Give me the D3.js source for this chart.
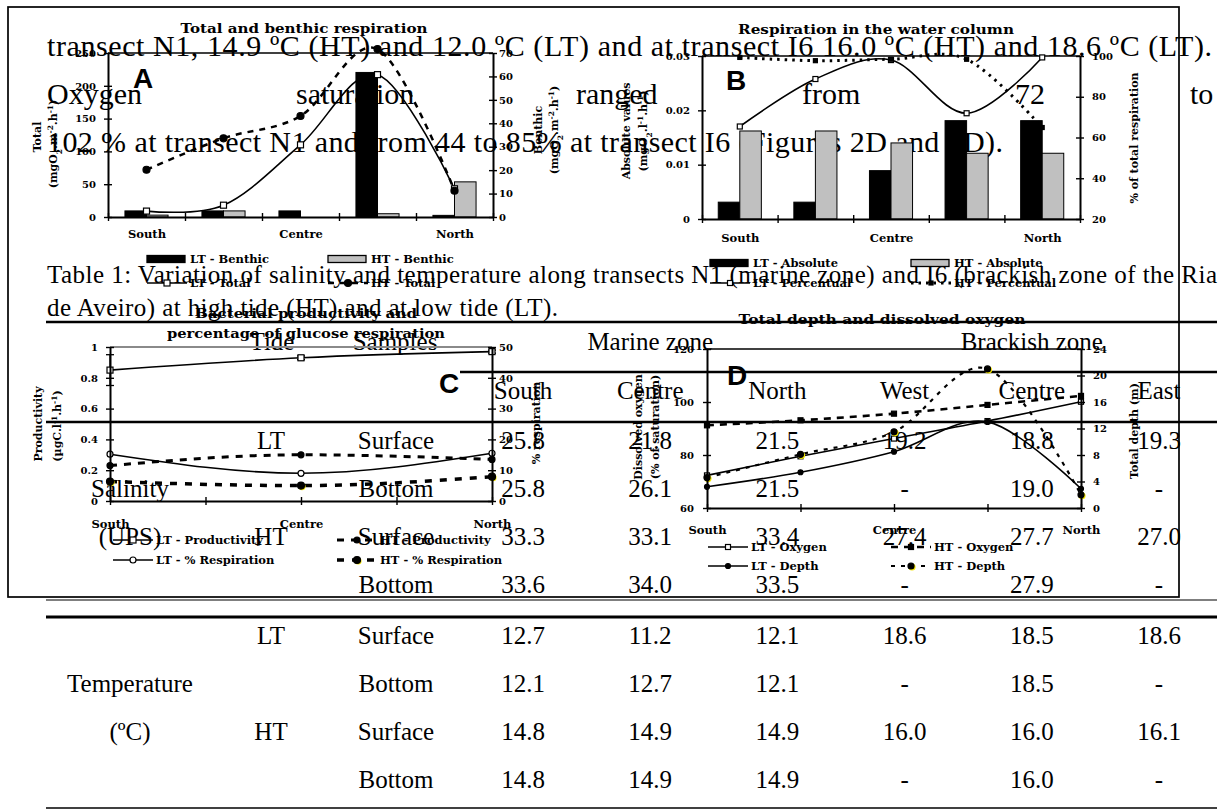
<!DOCTYPE html>
<html>
<head>
<meta charset="utf-8">
<script src="https://cdn.jsdelivr.net/npm/d3@7"></script>
<style>
  body { margin: 0; background: #fff; }
  svg { display: block; }
</style>
</head>
<body>
<svg id="page" width="1225" height="810"></svg>
<script>
// ---------------- body text and table ----------------
const bodyLine1 = "transect N1, 14.9 ºC (HT) and 12.0 ºC (LT) and at transect I6 16.0 ºC (HT) and 18.6 ºC (LT).";
const bodyLine2Words = ["Oxygen", "saturation", "ranged", "from", "72", "to"];
const bodyLine3 = "102 % at transect N1 and from 44 to 85% at transect I6 (Figures 2D and 3D).";
const captionLines = [
  "Table 1: Variation of salinity and temperature along transects N1 (marine zone) and I6 (brackish zone of the Ria",
  "de Aveiro) at high tide (HT) and at low tide (LT)."
];
const headerTide = "Tide";
const headerSamples = "Samples";
const zoneNames = ["Marine zone", "Brackish zone"];
const siteNames = ["South", "Centre", "North", "West", "Centre", "East"];
const salinityLtSurface = ["25.8", "21.8", "21.5", "19.2", "18.8", "19.3"];
const salinityLtBottom = ["25.8", "26.1", "21.5", "-", "19.0", "-"];
const salinityHtSurface = ["33.3", "33.1", "33.4", "27.4", "27.7", "27.0"];
const salinityHtBottom = ["33.6", "34.0", "33.5", "-", "27.9", "-"];
const temperatureLtSurface = ["12.7", "11.2", "12.1", "18.6", "18.5", "18.6"];
const temperatureLtBottom = ["12.1", "12.7", "12.1", "-", "18.5", "-"];
const temperatureHtSurface = ["14.8", "14.9", "14.9", "16.0", "16.0", "16.1"];
const temperatureHtBottom = ["14.8", "14.9", "14.9", "-", "16.0", "-"];

// ---------------- figure data ----------------
const transectSlots = ["South", "South-Centre", "Centre", "Centre-North", "North"];
const slotLabels = ["South", "", "Centre", "", "North"];

// A: total and benthic respiration
const ltBenthic = [2.6, 2.6, 2.6, 61.7, 0.7];
const htBenthic = [0.8, 2.6, 0, 1.4, 15.0];
const ltTotal = [9, 18, 110, 217, 43];
const htTotal = [72, 120, 154, 256, 40];
const totalTicks = [0, 50, 100, 150, 200, 250];
const benthicTicks = [0, 10, 20, 30, 40, 50, 60, 70];

// B: respiration in the water column
const ltAbsolute = [0.0031, 0.0031, 0.0089, 0.0181, 0.0181];
const htAbsolute = [0.0162, 0.0162, 0.0140, 0.0121, 0.0121];
const ltPercentual = [65.4, 88.7, 98.0, 71.9, 99.3];
const htPercentual = [99.3, 97.7, 98.4, 98.4, 64.9];
const absoluteTicks = [0, 0.01, 0.02, 0.03];
const percentTicks = [20, 40, 60, 80, 100];

// C: bacterial productivity and glucose respiration
const prodStations = ["South", "Centre", "North"];
const ltProductivity = [0.85, 0.93, 0.97];
const ltProductivityErr = [0.1, 0.012, 0.01];
const htProductivity = [0.23, 0.30, 0.27];
const ltRespiration = [15.2, 9.0, 15.5];
const htRespiration = [6.3, 5.0, 7.9];
const productivityTicks = [0, 0.2, 0.4, 0.6, 0.8, 1];
const respirationTicks = [0, 10, 20, 30, 40, 50];

// D: total depth and dissolved oxygen
const ltOxygen = [72.3, 79.5, 86.2, 92.8, 100.1];
const htOxygen = [91.2, 93.1, 95.6, 98.9, 102.3];
const ltDepth = [3.2, 5.4, 8.5, 13.0, 2.9];
const htDepth = [4.6, 8.1, 11.5, 21.0, 2.0];
const oxygenTicks = [60, 80, 100, 120];
const depthTicks = [0, 4, 8, 12, 16, 20, 24];

// ---------------- styling ----------------
const SERIF = "'Liberation Serif', 'Times New Roman', serif";
const CHART = "'DejaVu Serif', serif";
const SANS = "'Liberation Sans', Arial, sans-serif";
const GREY = "#c0c0c0";

const svg = d3.select("#page");
svg.append("rect").attr("width", 1225).attr("height", 810).attr("fill", "#fff");

// ---------------- document text ----------------
const doc = svg.append("g").attr("font-family", SERIF).attr("font-size", 25).attr("fill", "#000");

function docText(str, x, y, opts = {}) {
  const t = doc.append("text").attr("x", x).attr("y", y).text(str);
  if (opts.anchor) t.attr("text-anchor", opts.anchor);
  if (opts.size) t.attr("font-size", opts.size);
  if (opts.length) t.attr("textLength", opts.length).attr("lengthAdjust", "spacing");
  return t;
}

// running paragraph (larger type than the table)
docText(bodyLine1, 47, 56, { length: 1165, size: 30 });
const line2X = [47, 296, 576, 802, 1015, 1190];
bodyLine2Words.forEach((w, i) => docText(w, line2X[i], 104, { size: 30 }));
docText(bodyLine3, 47, 152, { length: 956, size: 30 });
docText(captionLines[0], 47, 283, { length: 1170 });
docText(captionLines[1], 47, 316, { length: 511 });

function rule(y, x1, x2, w) {
  doc.append("line").attr("x1", x1).attr("x2", x2).attr("y1", y).attr("y2", y)
    .attr("stroke", "#000").attr("stroke-width", w);
}
rule(322, 46, 1217, 2.6);
rule(372, 460, 1217, 2.3);
rule(422, 46, 1217, 2.6);
rule(600, 46, 1217, 1.1);
rule(617, 46, 1217, 3);
rule(808, 46, 1217, 1.4);

const colX = d3.scalePoint().domain(d3.range(siteNames.length)).range([523, 1159]);
docText(headerTide, 272, 350, { anchor: "middle" });
docText(headerSamples, 395, 350, { anchor: "middle" });
docText(zoneNames[0], colX(1), 350, { anchor: "middle" });
docText(zoneNames[1], colX(4), 350, { anchor: "middle" });
siteNames.forEach((s, i) => docText(s, colX(i), 399, { anchor: "middle" }));

function tableBlock(top, name, unit, rows) {
  const tides = ["LT", "", "HT", ""];
  const samples = ["Surface", "Bottom", "Surface", "Bottom"];
  rows.forEach((vals, r) => {
    const y = top + r * 48;
    if (tides[r]) docText(tides[r], 271, y, { anchor: "middle" });
    docText(samples[r], 396, y, { anchor: "middle" });
    vals.forEach((v, c) => docText(v, colX(c), y, { anchor: "middle" }));
  });
  docText(name, 130, top + 48, { anchor: "middle" });
  docText(unit, 130, top + 96, { anchor: "middle" });
}
tableBlock(449, "Salinity", "(UPS)", [salinityLtSurface, salinityLtBottom, salinityHtSurface, salinityHtBottom]);
tableBlock(644, "Temperature", "(ºC)", [temperatureLtSurface, temperatureLtBottom, temperatureHtSurface, temperatureHtBottom]);

// ---------------- figure ----------------
const fig = svg.append("g").attr("font-family", CHART).attr("font-weight", "bold").attr("fill", "#000");
fig.append("rect").attr("x", 8).attr("y", 7).attr("width", 1171).attr("height", 590)
  .attr("fill", "none").attr("stroke", "#000").attr("stroke-width", 1.7);

function styleAxis(g, fontSize) {
  g.attr("font-family", CHART).attr("font-weight", "bold").attr("font-size", fontSize);
  g.selectAll(".domain").attr("stroke", "#000").attr("stroke-width", 2);
  g.selectAll(".tick line").attr("stroke", "#000").attr("stroke-width", 1.4);
  g.selectAll(".tick text").attr("fill", "#000");
}

// vertical axis with ticks crossing the axis line
function yAxis(scale, x, ticks, side, gap, fmt) {
  const outer = (side === "left" ? d3.axisLeft(scale) : d3.axisRight(scale))
    .tickValues(ticks).tickSizeInner(4).tickSizeOuter(0).tickPadding(gap).tickFormat(fmt || (d => String(d)));
  const g = fig.append("g").attr("transform", `translate(${x},0)`).call(outer);
  styleAxis(g, 10);
  const inner = (side === "left" ? d3.axisRight(scale) : d3.axisLeft(scale))
    .tickValues(ticks).tickSizeInner(4).tickSizeOuter(0).tickFormat("");
  const gi = fig.append("g").attr("transform", `translate(${x},0)`).call(inner);
  gi.select(".domain").remove();
  styleAxis(gi, 10);
  return g;
}

// horizontal axis: crossing ticks at the given scale positions, station names below
function xAxis(tickScale, tickValues, y, labelScale, labelY) {
  const down = d3.axisBottom(tickScale).tickValues(tickValues).tickSizeInner(4).tickSizeOuter(0).tickFormat("");
  const g = fig.append("g").attr("transform", `translate(0,${y})`).call(down);
  styleAxis(g, 11);
  const up = d3.axisTop(tickScale).tickValues(tickValues).tickSizeInner(4).tickSizeOuter(0).tickFormat("");
  const gu = fig.append("g").attr("transform", `translate(0,${y})`).call(up);
  gu.select(".domain").remove();
  styleAxis(gu, 11);
  const lab = d3.axisBottom(labelScale).tickSize(0).tickPadding(0)
    .tickFormat(d => slotLabels[transectSlots.indexOf(d)]);
  const gl = fig.append("g").attr("transform", `translate(0,${labelY})`).call(lab);
  gl.select(".domain").remove();
  styleAxis(gl, 11.5);
  gl.selectAll(".tick text").attr("dy", 0);
}

function title(str, cx, y, len) {
  fig.append("text").attr("x", cx).attr("y", y).attr("text-anchor", "middle")
    .attr("font-size", 12).attr("textLength", len).attr("lengthAdjust", "spacingAndGlyphs").text(str);
}

function panelLetter(ch, x, y) {
  fig.append("text").attr("x", x).attr("y", y).attr("font-family", SANS)
    .attr("font-weight", "bold").attr("font-size", 28).text(ch);
}

// rotated axis caption; parts are [text, shift] with shift "sub", "super" or null
function axisCaption(parts, x, y) {
  const t = fig.append("text").attr("transform", `translate(${x},${y}) rotate(-90)`)
    .attr("text-anchor", "middle").attr("font-size", 11);
  parts.forEach(([s, shift]) => {
    const ts = t.append("tspan").text(s);
    if (shift) ts.attr("baseline-shift", shift).attr("font-size", 7.5);
  });
}

function unitParts(base, vol) {
  return [["(" + base, null], ["2", "sub"], ["." + vol, null], ["-" + (vol === "m" ? "2" : "1"), "super"], [".h", null], ["-1", "super"], [")", null]];
}

function marker(g, type, x, y, s) {
  if (type === "openSquare" || type === "filledSquare") {
    g.append("rect").attr("x", x - s / 2).attr("y", y - s / 2).attr("width", s).attr("height", s)
      .attr("fill", type === "openSquare" ? "#fff" : "#000").attr("stroke", "#000").attr("stroke-width", 1.2);
  } else {
    g.append("circle").attr("cx", x).attr("cy", y).attr("r", s / 2)
      .attr("fill", type === "openCircle" ? "#fff" : "#000").attr("stroke", "#000").attr("stroke-width", 1.2);
  }
}

function series(pts, opts) {
  const g = fig.append("g");
  const line = d3.line().x(d => d[0]).y(d => d[1]).curve(opts.curve || d3.curveCardinal.tension(0));
  g.append("path").attr("d", line(pts)).attr("fill", "none").attr("stroke", "#000")
    .attr("stroke-width", opts.width || 1.5).attr("stroke-dasharray", opts.dash || null);
  pts.forEach(p => {
    if (opts.halo) g.append("circle").attr("cx", p[0] + 1).attr("cy", p[1] + 1).attr("r", 3.6).attr("fill", "#f2e600");
    marker(g, opts.marker, p[0], p[1], opts.size || 6);
  });
  return g;
}

function legendItem(x, y, item) {
  const g = fig.append("g");
  if (item.bar) {
    g.append("rect").attr("x", x).attr("y", y - 3.5).attr("width", 38).attr("height", 7)
      .attr("fill", item.bar).attr("stroke", "#000").attr("stroke-width", 1.3);
  } else {
    g.append("line").attr("x1", x).attr("x2", x + 40).attr("y1", y).attr("y2", y).attr("stroke", "#000")
      .attr("stroke-width", item.width || 1.5).attr("stroke-dasharray", item.dash || null);
    if (item.halo) g.append("circle").attr("cx", x + 21).attr("cy", y + 1).attr("r", 3.6).attr("fill", "#f2e600");
    marker(g, item.marker, x + 20, y, item.size || 6);
  }
  g.append("text").attr("x", x + 43).attr("y", y + 4).attr("font-size", 11.5).text(item.label);
}

// ---- Panel A ----
const A = { left: 108, right: 493, top: 53, bottom: 217 };
const xA = d3.scaleBand().domain(transectSlots).range([A.left, A.right]).padding(0);
const edgeA = d3.scaleLinear().domain([0, transectSlots.length]).range([A.left, A.right]);
const yTotal = d3.scaleLinear().domain([0, 250]).range([A.bottom, A.top]);
const yBenthic = d3.scaleLinear().domain([0, 70]).range([A.bottom, A.top]);
fig.append("line").attr("x1", A.left).attr("x2", A.right).attr("y1", A.top).attr("y2", A.top)
  .attr("stroke", "#000").attr("stroke-width", 1.3);
const barWA = xA.bandwidth() * 0.28;
const cA = s => xA(s) + xA.bandwidth() / 2;
fig.append("g").selectAll("rect").data(ltBenthic).join("rect")
  .attr("x", (d, i) => cA(transectSlots[i]) - barWA).attr("width", barWA)
  .attr("y", d => yBenthic(d)).attr("height", d => yBenthic(0) - yBenthic(d))
  .attr("fill", "#000").attr("stroke", "#000").attr("stroke-width", 1);
fig.append("g").selectAll("rect").data(htBenthic).join("rect")
  .attr("x", (d, i) => cA(transectSlots[i])).attr("width", barWA)
  .attr("y", d => yBenthic(d)).attr("height", d => yBenthic(0) - yBenthic(d))
  .attr("fill", GREY).attr("stroke", "#000").attr("stroke-width", 1);
series(ltTotal.map((v, i) => [cA(transectSlots[i]), yTotal(v)]), { marker: "openSquare", size: 6, width: 1.6 });
series(htTotal.map((v, i) => [cA(transectSlots[i]), yTotal(v)]), { marker: "filledCircle", size: 7, width: 2.5, dash: "6,6" });
yAxis(yTotal, A.left, totalTicks, "left", 8);
yAxis(yBenthic, A.right, benthicTicks, "right", 2);
xAxis(edgeA, d3.range(transectSlots.length + 1), A.bottom, d3.scalePoint().domain(transectSlots).range([cA("South"), cA("North")]), 238);
title("Total and benthic respiration", 304, 33, 247);
panelLetter("A", 133, 88);
axisCaption([["Total", null]], 41, 137);
axisCaption(unitParts("mgO", "m"), 57, 144);
axisCaption([["Benthic", null]], 542, 130);
axisCaption(unitParts("mgO", "m"), 558, 130);
legendItem(147, 259, { bar: "#000", label: "LT - Benthic" });
legendItem(328, 259, { bar: GREY, label: "HT - Benthic" });
legendItem(147, 283, { marker: "openSquare", label: "LT - Total" });
legendItem(328, 283, { marker: "filledCircle", size: 7, dash: "6,6", width: 2.5, label: "HT - Total" });

// ---- Panel B ----
const B = { left: 702, right: 1080, top: 56, bottom: 219 };
const xB = d3.scaleBand().domain(transectSlots).range([B.left, B.right]).padding(0);
const edgeB = d3.scaleLinear().domain([0, transectSlots.length]).range([B.left, B.right]);
const yAbs = d3.scaleLinear().domain([0, 0.03]).range([B.bottom, B.top]);
const yPct = d3.scaleLinear().domain([20, 100]).range([B.bottom, B.top]);
fig.append("line").attr("x1", B.left).attr("x2", B.right).attr("y1", B.top).attr("y2", B.top)
  .attr("stroke", "#000").attr("stroke-width", 1.3);
const barWB = xB.bandwidth() * 0.285;
const cB = s => xB(s) + xB.bandwidth() / 2;
fig.append("g").selectAll("rect").data(ltAbsolute).join("rect")
  .attr("x", (d, i) => cB(transectSlots[i]) - barWB).attr("width", barWB)
  .attr("y", d => yAbs(d)).attr("height", d => yAbs(0) - yAbs(d))
  .attr("fill", "#000").attr("stroke", "#000").attr("stroke-width", 1);
fig.append("g").selectAll("rect").data(htAbsolute).join("rect")
  .attr("x", (d, i) => cB(transectSlots[i])).attr("width", barWB)
  .attr("y", d => yAbs(d)).attr("height", d => yAbs(0) - yAbs(d))
  .attr("fill", GREY).attr("stroke", "#000").attr("stroke-width", 1);
series(ltPercentual.map((v, i) => [cB(transectSlots[i]), yPct(v)]), { marker: "openSquare", size: 5, width: 1.6 });
series(htPercentual.map((v, i) => [cB(transectSlots[i]), yPct(v)]), { marker: "filledSquare", size: 4, width: 3, dash: "2.5,5" });
yAxis(yAbs, B.left, absoluteTicks, "left", 8);
yAxis(yPct, B.right, percentTicks, "right", 8);
xAxis(edgeB, d3.range(transectSlots.length + 1), B.bottom, d3.scalePoint().domain(transectSlots).range([cB("South"), cB("North")]), 242);
title("Respiration in the water column", 876, 34, 276);
panelLetter("B", 726, 90);
axisCaption([["Absolute values", null]], 630, 131);
axisCaption(unitParts("mgO", "l"), 647, 131);
axisCaption([["% of total respiration", null]], 1138, 138);
legendItem(710, 263, { bar: "#000", label: "LT - Absolute" });
legendItem(911, 263, { bar: GREY, label: "HT - Absolute" });
legendItem(710, 283, { marker: "openSquare", size: 5, label: "LT - Percentual" });
legendItem(911, 283, { marker: "filledSquare", size: 4, dash: "2.5,5", width: 3, label: "HT - Percentual" });

// ---- Panel C ----
const C = { left: 110, right: 492, top: 347, bottom: 501 };
const xC = d3.scalePoint().domain(transectSlots).range([C.left, C.right]);
const yProd = d3.scaleLinear().domain([0, 1]).range([C.bottom, C.top]);
const yResp = d3.scaleLinear().domain([0, 50]).range([C.bottom, C.top]);
fig.append("line").attr("x1", C.left).attr("x2", C.right).attr("y1", C.top).attr("y2", C.top)
  .attr("stroke", "#8a8a8a").attr("stroke-width", 1.8);
// error bars on the low-tide productivity
const errG = fig.append("g").attr("stroke", "#000").attr("stroke-width", 1.3);
ltProductivity.forEach((v, i) => {
  const x = xC(prodStations[i]);
  errG.append("line").attr("x1", x).attr("x2", x).attr("y1", yProd(v - ltProductivityErr[i])).attr("y2", yProd(v + ltProductivityErr[i]));
  [v - ltProductivityErr[i], v + ltProductivityErr[i]].forEach(e =>
    errG.append("line").attr("x1", x - 4).attr("x2", x + 4).attr("y1", yProd(e)).attr("y2", yProd(e)));
});
series(ltProductivity.map((v, i) => [xC(prodStations[i]), yProd(v)]), { marker: "openSquare", size: 6, width: 1.6, curve: d3.curveMonotoneX });
series(ltRespiration.map((v, i) => [xC(prodStations[i]), yResp(v)]), { marker: "openCircle", size: 6, width: 1.6, curve: d3.curveMonotoneX });
series(htProductivity.map((v, i) => [xC(prodStations[i]), yProd(v)]), { marker: "filledCircle", size: 6, width: 3, dash: "7,7", curve: d3.curveMonotoneX });
series(htRespiration.map((v, i) => [xC(prodStations[i]), yResp(v)]), { marker: "filledCircle", size: 7, width: 3.5, dash: "7,8", curve: d3.curveMonotoneX, halo: true });
yAxis(yProd, C.left, productivityTicks, "left", 8);
yAxis(yResp, C.right, respirationTicks, "right", 3);
xAxis(xC, transectSlots, C.bottom, xC, 528);
fig.append("text").attr("x", 306).attr("y", 318).attr("text-anchor", "middle").attr("font-size", 12)
  .attr("textLength", 222).attr("lengthAdjust", "spacingAndGlyphs").text("Bacterial productivity and");
fig.append("text").attr("x", 306).attr("y", 338).attr("text-anchor", "middle").attr("font-size", 12)
  .attr("textLength", 278).attr("lengthAdjust", "spacingAndGlyphs").text("percentage of glucose respiration");
panelLetter("C", 439, 393);
axisCaption([["Productivity", null]], 42, 424);
axisCaption([["(µgC.l", null], ["-1", "super"], [".h", null], ["-1", "super"], [")", null]], 61, 426);
axisCaption([["% respiration", null]], 540, 423);
legendItem(113, 540, { marker: "openSquare", label: "LT - Productivity" });
legendItem(337, 540, { marker: "filledCircle", size: 6, dash: "7,7", width: 3, label: "HT - Productivity" });
legendItem(113, 560, { marker: "openCircle", label: "LT - % Respiration" });
legendItem(337, 560, { marker: "filledCircle", size: 7, dash: "7,8", width: 3.5, halo: true, label: "HT - % Respiration" });

// ---- Panel D ----
const D = { left: 707, right: 1081, top: 349, bottom: 508 };
const xD = d3.scalePoint().domain(transectSlots).range([D.left, D.right]);
const yOxy = d3.scaleLinear().domain([60, 120]).range([D.bottom, D.top]);
const yDepth = d3.scaleLinear().domain([0, 24]).range([D.bottom, D.top]);
fig.append("line").attr("x1", D.left).attr("x2", D.right).attr("y1", D.top).attr("y2", D.top)
  .attr("stroke", "#000").attr("stroke-width", 1.3);
series(ltOxygen.map((v, i) => [xD(transectSlots[i]), yOxy(v)]), { marker: "openSquare", size: 5, width: 1.6 });
series(ltDepth.map((v, i) => [xD(transectSlots[i]), yDepth(v)]), { marker: "filledCircle", size: 5, width: 1.6 });
series(htOxygen.map((v, i) => [xD(transectSlots[i]), yOxy(v)]), { marker: "filledSquare", size: 5, width: 2.6, dash: "7,6" });
series(htDepth.map((v, i) => [xD(transectSlots[i]), yDepth(v)]), { marker: "filledCircle", size: 6, width: 2.2, dash: "4,6", halo: true });
yAxis(yOxy, D.left, oxygenTicks, "left", 9);
yAxis(yDepth, D.right, depthTicks, "right", 8);
xAxis(xD, transectSlots, D.bottom, xD, 534);
title("Total depth and dissolved oxygen", 882, 324, 287);
panelLetter("D", 727, 385);
axisCaption([["Dissolved oxygen", null]], 642, 427);
axisCaption([["(% of saturation)", null]], 659, 427);
axisCaption([["Total depth (m)", null]], 1138, 431);
legendItem(708, 547, { marker: "openSquare", size: 5, label: "LT - Oxygen" });
legendItem(891, 547, { marker: "filledSquare", size: 5, dash: "7,6", width: 2.6, label: "HT - Oxygen" });
legendItem(708, 566, { marker: "filledCircle", size: 5, label: "LT - Depth" });
legendItem(891, 566, { marker: "filledCircle", size: 6, dash: "4,6", width: 2.2, halo: true, label: "HT - Depth" });
</script>
</body>
</html>
